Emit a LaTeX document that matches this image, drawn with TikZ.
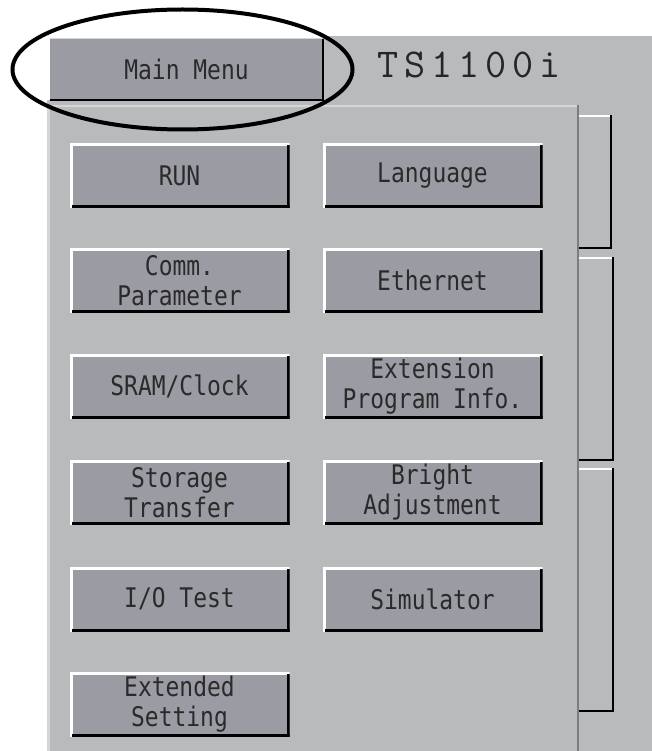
\documentclass[tikz,border=0pt]{standalone}
\usepackage{fontspec}
\usetikzlibrary{shapes.geometric}
\newfontfamily\lcdfont[FakeStretch=0.85]{DejaVu Sans Mono}
\definecolor{screen}{HTML}{B9BABC}
\definecolor{btnfill}{HTML}{9B9CA3}
\definecolor{panelline}{HTML}{7C7D80}
\definecolor{hilite}{HTML}{D4D5D7}
\definecolor{txt}{HTML}{2A2A2A}
\newcommand\wideglyph[1]{\makebox[27pt][c]{#1}}
\tikzset{
  lcd/.style={font=\lcdfont\fontsize{27}{30}\selectfont, text=txt},
  btn/.style={lcd, fill=btnfill, minimum width=220pt, minimum height=65pt,
    inner sep=0pt, align=center,
    path picture={
      \fill[white] (path picture bounding box.north west) rectangle ([yshift=-3pt]path picture bounding box.north east);
      \fill[white] (path picture bounding box.north west) rectangle ([xshift=3pt]path picture bounding box.south west);
      \fill[black] ([xshift=2pt]path picture bounding box.south west) rectangle ([yshift=3pt]path picture bounding box.south east);
      \fill[black] ([yshift=-2pt]path picture bounding box.north east) rectangle ([xshift=-3pt]path picture bounding box.south east);
    }},
  tabline/.style={line width=1.5pt},
}
\begin{document}
\begin{tikzpicture}[x=1pt,y=-1pt]
\useasboundingbox (0,0) rectangle (652,751);
\fill[white] (0,0) rectangle (652,751);
% screen background
\fill[screen] (323,36) rectangle (652,751);
\fill[screen] (47,100) rectangle (652,751);
% Main Menu tab
\node (mainmenu) [lcd, fill=btnfill, minimum width=273pt, minimum height=61pt, inner sep=0pt] at (186.5,69.5) {Main Menu};
\draw[hilite, line width=1pt] (mainmenu.north west) -- (mainmenu.north east);
\draw[black, line width=2pt] (mainmenu.north east) -- (mainmenu.south east) -- (mainmenu.south west);
% title
\node (title) [anchor=base west, inner sep=0pt, font=\ttfamily\fontsize{41}{41}\selectfont, text=black!85] at (374,78) {\wideglyph{T}\wideglyph{S}\wideglyph{1}\wideglyph{1}\wideglyph{0}\wideglyph{0}\wideglyph{i}};
% panel edges
\draw[hilite, line width=1.5pt] (47,106) -- (578,106);
\draw[hilite, line width=3pt] (48.5,106) -- (48.5,751);
\draw[panelline, line width=1.5pt] (578,105) -- (578,751);
% side tabs
\draw[white, line width=2pt] (579,116) -- (611,116);
\draw[black, tabline] (611,115) -- (611,248) -- (579,248);
\draw[white, line width=2pt] (579,258) -- (613,258);
\draw[black, tabline] (613,257) -- (613,460) -- (579,460);
\draw[white, line width=2pt] (579,469) -- (613,469);
\draw[black, tabline] (613,468) -- (613,711) -- (579,711);
% buttons
\node (run)   [btn] at (179.5,175.5) {RUN};
\node (lang)  [btn] at (432.5,175.5) {Language};
\node (comm)  [btn] at (179.5,280.5) {Comm.\\Parameter};
\node (eth)   [btn] at (432.5,280.5) {Ethernet};
\node (sram)  [btn] at (179.5,386.5) {SRAM/Clock};
\node (ext)   [btn] at (432.5,386.5) {Extension\\Program Info.};
\node (stor)  [btn] at (179.5,492.5) {Storage\\Transfer};
\node (bright)[btn] at (432.5,492.5) {Bright\\Adjustment};
\node (io)    [btn] at (179.5,599) {I/O Test};
\node (sim)   [btn] at (432.5,599) {Simulator};
\node (xset)  [btn] at (179.5,704.5) {Extended\\Setting};
% highlight ellipse
\node (hl) [ellipse, draw=black, line width=4pt, minimum width=340pt, minimum height=120pt, inner sep=0pt] at (182.5,69.5) {};
\end{tikzpicture}
\end{document}
